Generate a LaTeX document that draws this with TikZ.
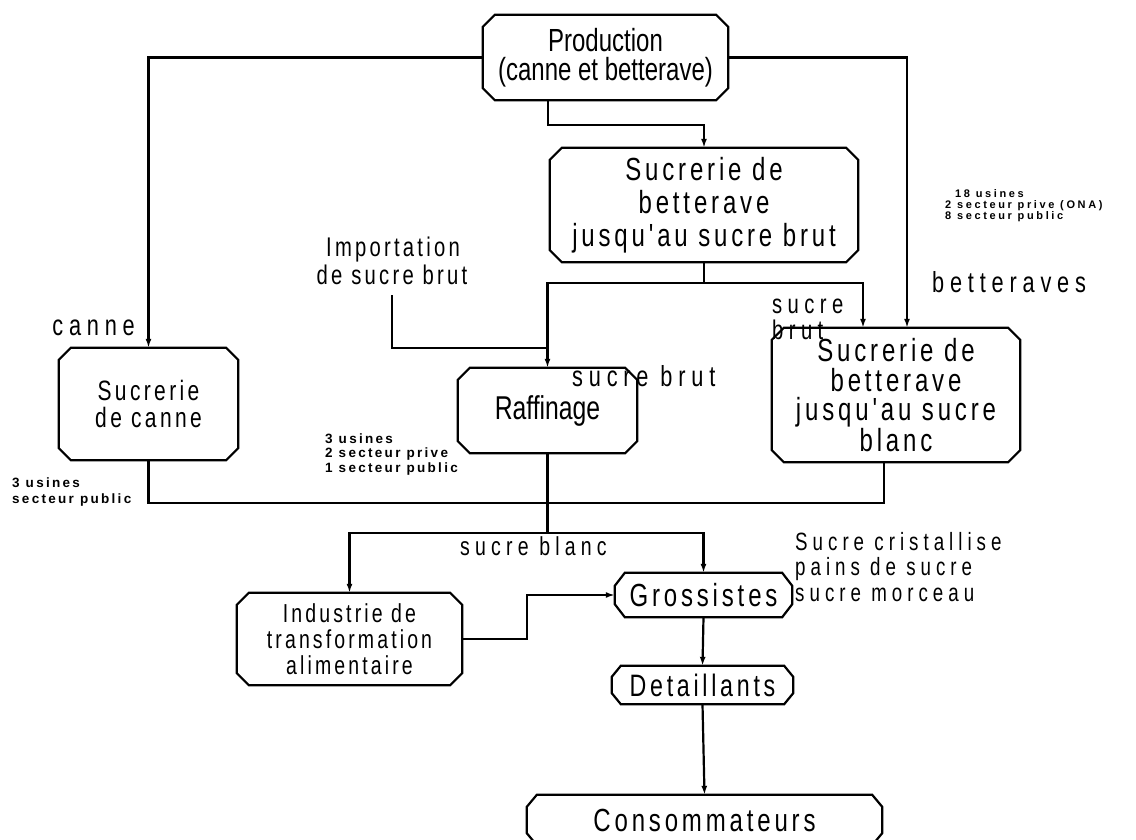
\documentclass[tikz,border=0pt]{standalone}
\usepackage{fontspec}
\setmainfont{Liberation Sans}
\newfontfamily\fA[FakeStretch=0.75]{Liberation Sans}
\newfontfamily\fB[FakeStretch=0.75,LetterSpace=12]{Liberation Sans}
\newfontfamily\fL[FakeStretch=0.75,LetterSpace=20]{Liberation Sans}
\newfontfamily\fS[LetterSpace=17]{Liberation Sans}
\newfontfamily\fT[LetterSpace=24]{Liberation Sans}
\usetikzlibrary{arrows.meta}
% chamfered outline round a named rectangle node: #1 node, #2 x-cut, #3 y-cut
\newcommand\chbox[3]{%
  \draw[boxline] ([xshift=#2]#1.north west) -- ([xshift=-#2]#1.north east)
    -- ([yshift=-#3]#1.north east) -- ([yshift=#3]#1.south east)
    -- ([xshift=-#2]#1.south east) -- ([xshift=#2]#1.south west)
    -- ([yshift=#3]#1.south west) -- ([yshift=-#3]#1.north west) -- cycle;}
\begin{document}
\begin{tikzpicture}[x=1pt,y=-1pt,
  box/.style={rectangle, inner sep=0pt, align=center},
  boxline/.style={line width=2.2pt, line join=miter},
  conn/.style={line width=2.2pt},
  arr/.style={conn,-{Latex[length=9pt,width=6pt]}},
  lbl/.style={inner sep=0pt},
  lab/.style={lbl, font=\fL\fontsize{29}{29}\selectfont},
  small/.style={lbl, anchor=base west, font=\fS\bfseries\fontsize{13.5}{14.5}\selectfont},
  tiny/.style={lbl, anchor=base west, font=\fT\bfseries\fontsize{11}{11}\selectfont}]
\useasboundingbox (0,0) rectangle (1136,840);

% boxes
\node[box, minimum width=245pt, minimum height=85pt, font=\fA\fontsize{32}{29}\selectfont] (prod) at (605.5,57.5) {Production\\(canne et betterave)};
\node[box, minimum width=308pt, minimum height=114pt, font=\fB\fontsize{32}{33}\selectfont] (brut) at (704,205) {Sucrerie de\\betterave\\jusqu'au sucre brut};
\node[box, minimum width=248pt, minimum height=134pt, font=\fB\fontsize{32}{29.5}\selectfont] (blanc) at (896,395) {Sucrerie de\\betterave\\jusqu'au sucre\\blanc};
\node[box, minimum width=179pt, minimum height=112pt, font=\fB\fontsize{28}{27}\selectfont] (canne) at (148.5,404) {Sucrerie\\de canne};
\node[box, minimum width=179pt, minimum height=85pt, font=\fA\fontsize{33}{33}\selectfont] (raff) at (547.5,410.5) {Raffinage};
\node[box, minimum width=225pt, minimum height=92pt, font=\fB\fontsize{26}{26}\selectfont] (ind) at (349.5,639) {Industrie de\\transformation\\alimentaire};
\node[box, minimum width=177pt, minimum height=44pt, font=\fB\fontsize{32}{32}\selectfont] (gross) at (703.5,595) {Grossistes};
\node[box, minimum width=181pt, minimum height=38pt, font=\fB\fontsize{31}{31}\selectfont] (det) at (702.5,685) {Detaillants};
\node[box, minimum width=355pt, minimum height=50pt, font=\fB\fontsize{32}{32}\selectfont] (cons) at (704.5,820) {Consommateurs};

\chbox{prod}{12pt}{12pt}
\chbox{brut}{12pt}{12pt}
\chbox{blanc}{12pt}{12pt}
\chbox{canne}{12pt}{12pt}
\chbox{raff}{12pt}{12pt}
\chbox{ind}{12pt}{12pt}
\chbox{gross}{10pt}{13pt}
\chbox{det}{9pt}{11pt}
\chbox{cons}{10pt}{12pt}

% labels
\node[lab, anchor=base east] (lcanne) at (135,335) {canne};
\node[lab, anchor=base west] (lbet) at (932,292) {betteraves};
\node[lab, anchor=base west, font=\fL\fontsize{27}{27}\selectfont] (lsb1) at (772,313) {sucre};
\node[lab, anchor=base west, font=\fL\fontsize{27}{27}\selectfont] (lsb2) at (772,339) {brut};
\node[lab, anchor=base west] (lsbm) at (572,386) {sucre brut};
\node[lbl, anchor=base, font=\fB\fontsize{27}{27}\selectfont] (imp1) at (393,256) {Importation};
\node[lbl, anchor=base, font=\fB\fontsize{27}{27}\selectfont] (imp2) at (392,284) {de sucre brut};
\node[lab, anchor=base west, font=\fL\fontsize{26}{26}\selectfont] (lsw) at (460,555) {sucre blanc};
\node[lab, anchor=base west, font=\fL\fontsize{25}{25}\selectfont] (sc1) at (795,550) {Sucre cristallise};
\node[lab, anchor=base west, font=\fL\fontsize{25}{25}\selectfont] (sc2) at (795,575) {pains de sucre};
\node[lab, anchor=base west, font=\fL\fontsize{25}{25}\selectfont] (sc3) at (795,601) {sucre morceau};

\node[small] (m1) at (325,443) {3 usines};
\node[small] (m2) at (325,457.5) {2 secteur prive};
\node[small] (m3) at (325,472) {1 secteur public};
\node[small] (l1) at (12,487) {3 usines};
\node[small] (l2) at (12,503) {secteur public};
\node[tiny] (t1) at (955,197) {18 usines};
\node[tiny] (t2) at (945,208) {2 secteur prive (ONA)};
\node[tiny] (t3) at (945,219) {8 secteur public};

% junction coordinates
\coordinate (pb) at ([xshift=-57.5pt]prod.south);
\coordinate (jp) at (548,125);
\coordinate (bt) at ([xshift=11pt]blanc.north);
\coordinate (bt2) at ([xshift=-33pt]blanc.north);
\coordinate (bs) at ([xshift=-12pt]blanc.south);
\coordinate (jb) at (704,283);
\coordinate (jr) at (547.5,348);
\coordinate (jc) at (148.5,503);
\coordinate (jw) at (547.5,533);
\coordinate (ji) at (527,639);
\coordinate (is) at ([yshift=-11pt]imp2.south);

% connectors
\draw[arr] (prod.west) -| (canne.north);
\draw[arr] (prod.east) -| (bt);
\draw[arr] (pb) -- (jp) -| (brut.north);
\draw[conn] (brut.south) -- (jb);
\draw[arr] (jb) -| (raff.north);
\draw[arr] (jb) -| (bt2);
\draw[conn] (is) |- (jr);
\draw[conn] (canne.south) -- (jc) -| (bs);
\draw[conn] (raff.south) -- (jw);
\draw[arr] (jw) -| (ind.north);
\draw[arr] (jw) -| (gross.north);
\draw[arr] (ind.east) -- (ji) |- (gross.west);
\draw[arr] (gross.south) -- (det.north);
\draw[arr] (det.south) -- (cons.north);
\end{tikzpicture}
\end{document}
